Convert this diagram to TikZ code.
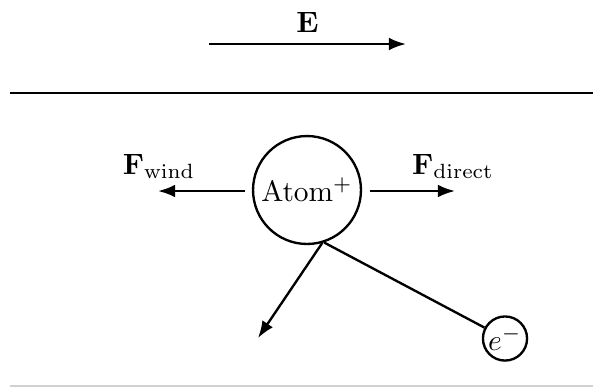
\documentclass[tikz,border=0pt]{standalone}
\usetikzlibrary{arrows.meta}
\begin{document}
\begin{tikzpicture}[x=0.34pt,y=-0.34pt,line width=0.8pt,
  arr/.style={-{Latex[length=5.8pt,width=4.3pt]}},
  ball/.style={circle,draw,inner sep=0pt},
  lbl/.style={inner sep=0pt,anchor=base}]
\useasboundingbox (0,0) rectangle (593,387);
% E field
\coordinate (Es) at (209,44);
\coordinate (Ee) at (406,44);
\draw[arr] (Es) -- (Ee);
\node[lbl] (E) at (307.5,32) {$\mathbf{E}$};
% rules
\coordinate (r1) at (10,93);
\coordinate (r2) at (593,93);
\draw[line width=0.95pt] (r1) -- (r2);
\coordinate (b1) at (10,386);
\coordinate (b2) at (593,386);
\draw[line width=0.4pt,black!18] (b1) -- (b2);
% atom and electron
\node[ball,minimum size=36.7pt] (atom) at (307,190) {Atom$^+$};
\node[ball,minimum size=15pt] (el) at (505,338.5) {$e^-$};
% forces
\coordinate (lw1) at (245,191);
\coordinate (lw2) at (158,191);
\draw[arr] (lw1) -- (lw2);
\coordinate (rd1) at (370,191);
\coordinate (rd2) at (455,191);
\draw[arr] (rd1) -- (rd2);
\node[lbl] (Fw) at (159,174) {$\mathbf{F}_{\mathrm{wind}}$};
\node[lbl] (Fd) at (453,174) {$\mathbf{F}_{\mathrm{direct}}$};
% lower
\coordinate (dn) at (258,338);
\draw[arr] (atom.-74) -- (dn);
\draw (atom.-72) -- (el);
\end{tikzpicture}
\end{document}
